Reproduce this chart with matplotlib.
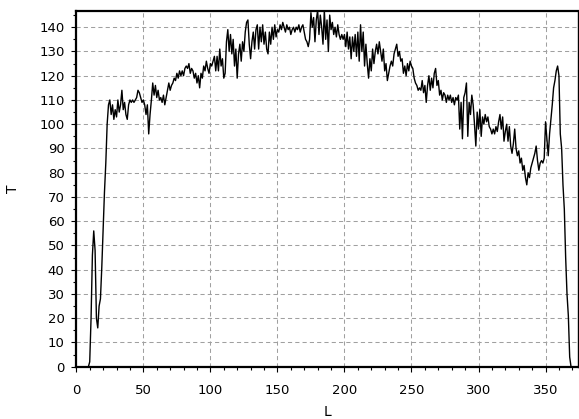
import matplotlib
matplotlib.use("Agg")
import matplotlib.pyplot as plt
from matplotlib.ticker import MultipleLocator

# profile samples, one per unit of L starting at L_START
L_START = 9
T = [
    0, 2, 20, 46, 56, 48, 20, 16, 25, 28, 41,
    56, 72, 84, 100, 108, 110, 104, 108, 102, 106,
    103, 110, 105, 108, 114, 106, 109, 104, 102, 108,
    110, 109, 110, 109, 110, 111, 114, 113, 111, 109,
    110, 108, 104, 108, 96, 104, 110, 117, 112, 116,
    111, 114, 110, 111, 109, 112, 108, 111, 114, 117,
    114, 116, 117, 119, 118, 121, 119, 122, 120, 122,
    120, 123, 124, 123, 125, 121, 123, 122, 119, 121,
    117, 120, 115, 121, 119, 124, 122, 126, 123, 121,
    125, 124, 126, 128, 122, 128, 122, 131, 124, 127,
    119, 121, 134, 139, 130, 137, 129, 135, 124, 131,
    119, 129, 133, 126, 134, 130, 138, 142, 143, 133,
    127, 134, 138, 131, 139, 141, 131, 140, 134, 141,
    133, 138, 131, 129, 138, 133, 140, 135, 141, 136,
    139, 138, 141, 139, 142, 140, 138, 141, 139, 140,
    137, 139, 140, 138, 140, 139, 141, 138, 140, 141,
    138, 135, 134, 132, 135, 146, 140, 144, 134, 143,
    147, 137, 145, 140, 133, 147, 135, 143, 130, 145,
    139, 142, 137, 140, 136, 141, 137, 135, 137, 135,
    137, 132, 138, 131, 136, 127, 136, 130, 137, 128,
    138, 126, 141, 130, 138, 124, 133, 125, 119, 127,
    122, 131, 125, 130, 133, 129, 134, 130, 126, 131,
    122, 125, 118, 121, 124, 126, 124, 129, 131, 133,
    128, 130, 126, 127, 121, 124, 120, 125, 122, 126,
    124, 123, 119, 117, 116, 114, 115, 114, 118, 113,
    116, 109, 116, 120, 114, 119, 115, 121, 123, 116,
    118, 112, 114, 110, 113, 112, 109, 112, 110, 112,
    109, 111, 108, 111, 110, 112, 98, 109, 94, 111,
    113, 117, 95, 109, 104, 112, 108, 100, 91, 105,
    98, 106, 95, 103, 100, 104, 101, 103, 99, 98,
    96, 98, 96, 99, 97, 101, 104, 98, 103, 93,
    97, 100, 93, 99, 91, 88, 92, 98, 90, 87,
    89, 84, 86, 81, 83, 78, 75, 80, 78, 82,
    84, 86, 88, 91, 85, 81, 84, 85, 84, 86,
    101, 94, 87, 96, 102, 108, 115, 118, 122, 124,
    120, 96, 90, 75, 65, 45, 30, 21, 4, 0,
]
L = list(range(L_START, L_START + len(T)))

FONT = "DejaVu Sans"
GRID = "#a0a0a0"

fig = plt.figure(figsize=(5.79, 4.19), dpi=100)
ax = fig.add_axes([0.1318, 0.1248, 0.866, 0.849])

ax.plot(L, T, color="black", linewidth=1.0)

ax.set_xlim(0, 374)
ax.set_ylim(0, 146.7)
ax.xaxis.set_major_locator(MultipleLocator(50))
ax.xaxis.set_minor_locator(MultipleLocator(10))
ax.yaxis.set_major_locator(MultipleLocator(10))
ax.yaxis.set_minor_locator(MultipleLocator(5))

ax.grid(True, which="major", color=GRID, linestyle=(0, (4, 3)), linewidth=0.75)
ax.set_axisbelow(True)

ax.tick_params(which="major", direction="out", length=3.5, width=0.8,
               labelsize=9.5)
ax.tick_params(axis="y", which="major", pad=5)
ax.tick_params(axis="x", which="major", pad=9)
ax.tick_params(which="minor", direction="out", length=2, width=0.8)
for lab in ax.get_xticklabels() + ax.get_yticklabels():
    lab.set_fontfamily(FONT)

for side in ("left", "bottom", "top"):
    ax.spines[side].set_linewidth(1.6)
ax.spines["right"].set_linewidth(1.0)

ax.set_xlabel("L", fontfamily=FONT, fontsize=10, labelpad=6)
ax.set_ylabel("T", fontfamily=FONT, fontsize=10, labelpad=14)

fig.savefig("out.png", dpi=100)
